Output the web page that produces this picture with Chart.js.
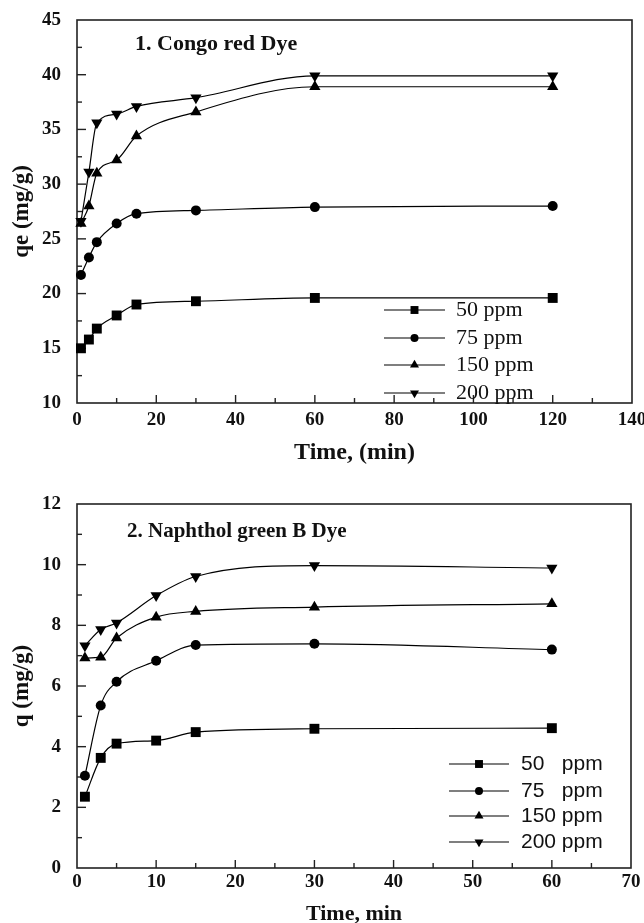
<!DOCTYPE html>
<html>
<head>
<meta charset="utf-8">
<script src="https://cdn.jsdelivr.net/npm/chart.js@4/dist/chart.umd.min.js"></script>
<style>
  html, body { margin: 0; padding: 0; background: #fff; overflow: hidden; }
  .box { position: absolute; left: 0; height: 470px; }
</style>
</head>
<body>
<div class="box" style="top:0;width:651px"><canvas id="congoChart"></canvas></div>
<div class="box" style="top:470px;width:644px"><canvas id="naphtholChart"></canvas></div>
<script>
// panel 1: Congo red
const congoTime = [1, 3, 5, 10, 15, 30, 60, 120];
const congo50 = [15.0, 15.8, 16.8, 18.0, 19.0, 19.3, 19.6, 19.6];
const congo75 = [21.7, 23.3, 24.7, 26.4, 27.3, 27.6, 27.9, 28.0];
const congo150 = [26.4, 28.0, 31.0, 32.2, 34.4, 36.6, 38.9, 38.9];
const congo200 = [26.6, 31.1, 35.6, 36.4, 37.1, 37.9, 39.9, 39.9];
const congoLabels = ['50 ppm', '75 ppm', '150 ppm', '200 ppm'];

// panel 2: Naphthol green B
const naphTime = [1, 3, 5, 10, 15, 30, 60];
const naph50 = [2.35, 3.63, 4.1, 4.2, 4.48, 4.59, 4.61];
const naph75 = [3.04, 5.36, 6.14, 6.83, 7.35, 7.39, 7.2];
const naph150 = [6.92, 6.95, 7.58, 8.27, 8.46, 8.6, 8.71];
const naph200 = [7.33, 7.86, 8.08, 8.98, 9.61, 9.97, 9.89];
const naphLabels = ['50   ppm', '75   ppm', '150 ppm', '200 ppm'];

// marker per series
const markerStyle = ['rect', 'circle', 'triangle', 'triangle'];
const markerRot = [0, 0, 0, 180];
const markerSize = [7, 5, 6.5, 6.5];

Chart.defaults.font.family = 'Liberation Serif';
Chart.defaults.color = '#111';

function toPoints(xs, ys) {
  return xs.map(function (x, i) { return { x: x, y: ys[i] }; });
}

function makeDatasets(xs, series, labels) {
  return series.map(function (ys, i) {
    return {
      label: labels[i],
      data: toPoints(xs, ys),
      borderColor: '#000',
      backgroundColor: '#000',
      borderWidth: 1.2,
      cubicInterpolationMode: 'monotone',
      pointStyle: markerStyle[i],
      rotation: markerRot[i],
      pointRadius: markerSize[i],
      pointBorderWidth: 0,
      clip: false
    };
  });
}

// frame, inward ticks, inset title and legend
const framePlugin = {
  id: 'frame',
  beforeDatasetsDraw(chart, args, opts) {
    const ctx = chart.ctx;
    const a = chart.chartArea;
    ctx.save();
    ctx.strokeStyle = '#222';
    ctx.lineWidth = 1.6;
    ctx.strokeRect(a.left, a.top, a.right - a.left, a.bottom - a.top);
    ctx.lineWidth = 1.4;
    const xs = chart.scales.x;
    xs.ticks.forEach(function (t) {
      const px = xs.getPixelForValue(t.value);
      if (px <= a.left + 1 || px >= a.right - 1) return;
      const len = (Math.round(t.value) % opts.xMajor === 0) ? 8 : 5;
      ctx.beginPath();
      ctx.moveTo(px, a.bottom);
      ctx.lineTo(px, a.bottom - len);
      ctx.stroke();
    });
    const ys = chart.scales.y;
    ys.ticks.forEach(function (t) {
      const py = ys.getPixelForValue(t.value);
      if (py <= a.top + 1 || py >= a.bottom - 1) return;
      const len = (Math.abs(t.value % opts.yMajor) < 1e-6) ? 9 : 5;
      ctx.beginPath();
      ctx.moveTo(a.left, py);
      ctx.lineTo(a.left + len, py);
      ctx.stroke();
    });
    ctx.restore();
  },
  afterDatasetsDraw(chart, args, opts) {
    const ctx = chart.ctx;
    const a = chart.chartArea;
    ctx.save();
    ctx.fillStyle = '#111';
    ctx.textBaseline = 'middle';
    ctx.textAlign = 'left';
    ctx.font = 'bold ' + opts.titleSize + 'px "Liberation Serif"';
    ctx.fillText(opts.title, a.left + opts.titleX, a.top + opts.titleY);

    const lg = opts.legend;
    ctx.font = lg.size + 'px "' + lg.family + '"';
    chart.data.datasets.forEach(function (ds, i) {
      const y = a.bottom - lg.rows[i];
      const x0 = a.right - lg.lineFrom;
      const x1 = a.right - lg.lineTo;
      ctx.strokeStyle = '#000';
      ctx.lineWidth = 1.2;
      ctx.beginPath();
      ctx.moveTo(x0, y);
      ctx.lineTo(x1, y);
      ctx.stroke();
      ctx.fillStyle = '#000';
      Chart.helpers.drawPoint(ctx, {
        pointStyle: markerStyle[i],
        rotation: markerRot[i],
        radius: markerSize[i] * 0.8,
        borderWidth: 0
      }, (x0 + x1) / 2, y);
      ctx.fillStyle = '#111';
      ctx.fillText(ds.label, a.right - lg.textAt, y);
    });
    ctx.restore();
  }
};

function makeChart(id, cfg) {
  return new Chart(document.getElementById(id), {
    type: 'line',
    data: { datasets: cfg.datasets },
    plugins: [framePlugin],
    options: {
      responsive: true,
      maintainAspectRatio: false,
      animation: false,
      layout: { padding: cfg.padding },
      plugins: {
        legend: { display: false },
        tooltip: { enabled: false },
        frame: cfg.frame
      },
      scales: {
        x: {
          type: 'linear',
          min: cfg.xMin, max: cfg.xMax,
          grid: { display: false },
          border: { display: false },
          afterFit: function (s) { s.height = cfg.xHeight; },
          ticks: {
            stepSize: cfg.xStep,
            autoSkip: false,
            maxRotation: 0,
            padding: cfg.xPad,
            font: { size: 19, weight: 'bold' },
            callback: function (v) { return (Math.round(v) % cfg.frame.xMajor === 0) ? v : ''; }
          },
          title: {
            display: true,
            text: cfg.xTitle,
            font: { size: cfg.xTitleSize, weight: 'bold' },
            padding: { top: 0, bottom: cfg.xTitlePad }
          }
        },
        y: {
          min: cfg.yMin, max: cfg.yMax,
          grid: { display: false },
          border: { display: false },
          afterFit: function (s) { s.width = 77; },
          ticks: {
            stepSize: cfg.yStep,
            autoSkip: false,
            padding: 8,
            font: { size: 19, weight: 'bold' },
            callback: function (v) { return (Math.abs(v % cfg.frame.yMajor) < 1e-6) ? v : ''; }
          },
          title: {
            display: true,
            text: cfg.yTitle,
            font: { size: 23, weight: 'bold' },
            padding: { top: 8, bottom: 0 }
          }
        }
      }
    }
  });
}

makeChart('congoChart', {
  datasets: makeDatasets(congoTime, [congo50, congo75, congo150, congo200], congoLabels),
  padding: { top: 20, right: 19, left: 0, bottom: 0 },
  xMin: 0, xMax: 140, xStep: 10, xHeight: 67, xPad: -2.5,
  yMin: 10, yMax: 45, yStep: 2.5,
  xTitle: 'Time, (min)', xTitleSize: 24, xTitlePad: 3,
  yTitle: 'qe (mg/g)',
  frame: {
    xMajor: 20, yMajor: 5,
    title: '1. Congo red Dye', titleSize: 22, titleX: 58, titleY: 24,
    legend: {
      family: 'Liberation Serif', size: 22,
      lineFrom: 248, lineTo: 187, textAt: 176,
      rows: [93, 65, 38, 10]
    }
  }
});

makeChart('naphtholChart', {
  datasets: makeDatasets(naphTime, [naph50, naph75, naph150, naph200], naphLabels),
  padding: { top: 34, right: 13, left: 0, bottom: 0 },
  xMin: 0, xMax: 70, xStep: 5, xHeight: 72, xPad: -5,
  yMin: 0, yMax: 12, yStep: 1,
  xTitle: 'Time, min', xTitleSize: 22, xTitlePad: 12,
  yTitle: 'q (mg/g)',
  frame: {
    xMajor: 10, yMajor: 2,
    title: '2. Naphthol green B Dye', titleSize: 21, titleX: 50, titleY: 28,
    legend: {
      family: 'Liberation Sans', size: 21,
      lineFrom: 182, lineTo: 122, textAt: 110,
      rows: [104, 77, 52, 26]
    }
  }
});
</script>
</body>
</html>
